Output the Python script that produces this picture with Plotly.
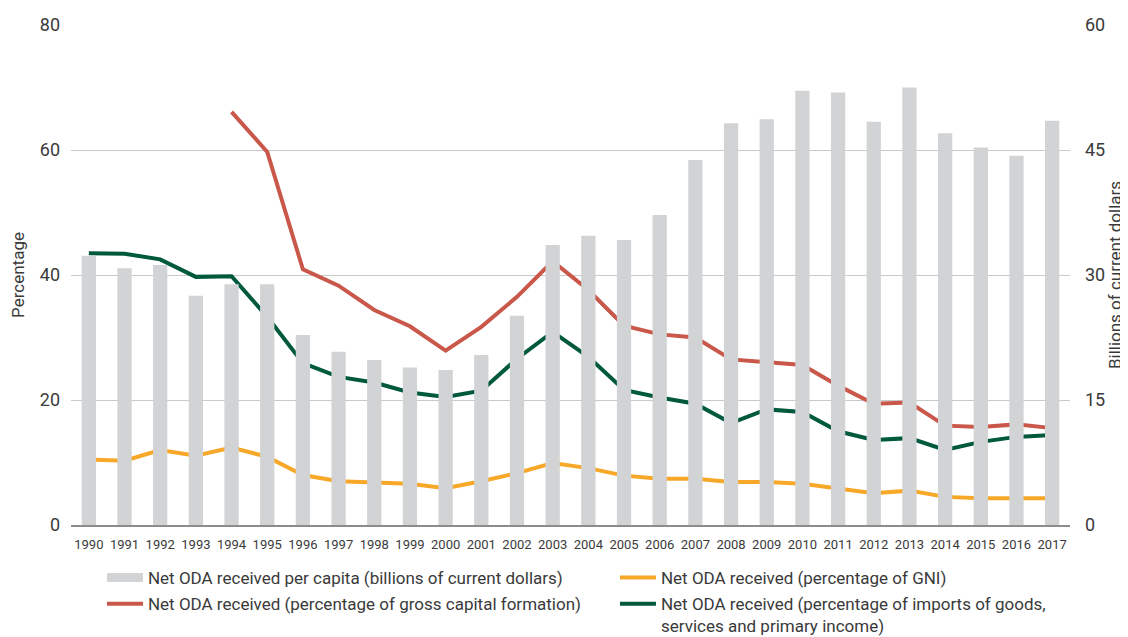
import plotly.graph_objects as go

years = [str(y) for y in range(1990, 2018)]

oda_per_capita_bn = [32.3, 30.8, 31.2, 27.5, 28.9, 28.9, 22.8, 20.8, 19.8, 18.9,
                     18.6, 20.4, 25.1, 33.6, 34.7, 34.2, 37.2, 43.8, 48.2, 48.7,
                     52.1, 51.9, 48.4, 52.5, 47.0, 45.3, 44.3, 48.5]

pct_gni = [10.5, 10.3, 12.0, 11.1, 12.4, 10.9, 8.0, 7.0, 6.8, 6.6,
           5.9, 7.0, 8.3, 9.9, 9.1, 7.9, 7.4, 7.4, 6.9, 6.9,
           6.6, 5.9, 5.1, 5.5, 4.5, 4.3, 4.3, 4.3]

pct_gcf = [None, None, None, None, 66.1, 59.7, 40.9, 38.3, 34.4, 31.8,
           27.9, 31.7, 36.5, 42.2, 37.6, 31.9, 30.5, 30.0, 26.5, 26.0,
           25.6, 22.3, 19.4, 19.6, 15.9, 15.7, 16.1, 15.5]

pct_imports = [43.5, 43.4, 42.5, 39.7, 39.8, 33.3, 25.9, 23.7, 22.8, 21.2,
               20.5, 21.5, 26.6, 30.9, 26.9, 21.6, 20.4, 19.4, 16.3, 18.5,
               18.1, 15.0, 13.6, 13.9, 12.0, 13.3, 14.1, 14.4]

left_ticks = [0, 20, 40, 60, 80]
right_ticks = [0, 15, 30, 45, 60]

GRAY = "#d1d3d4"
ORANGE = "#f8a829"
RED = "#c9574a"
GREEN = "#00593d"
TEXT = "#3a3a3a"
FONT = "Roboto, sans-serif"

fig = go.Figure()

fig.add_trace(go.Bar(
    x=years, y=oda_per_capita_bn, yaxis="y2", marker_color=GRAY,
    marker_line_width=0, width=0.4, showlegend=False,
    name="Net ODA received per capita (billions of current dollars)"))

# legend swatch for the bars (wide grey block, as in the reference)
fig.add_trace(go.Scatter(
    x=[None], y=[None], mode="lines", line=dict(color=GRAY, width=9),
    legend="legend", legendgroup="a",
    name="Net ODA received per capita (billions of current dollars)"))

fig.add_trace(go.Scatter(
    x=years, y=pct_gni, mode="lines", line=dict(color=ORANGE, width=4),
    legend="legend2", legendgroup="b",
    name="Net ODA received (percentage of GNI)"))

fig.add_trace(go.Scatter(
    x=years, y=pct_gcf, mode="lines", line=dict(color=RED, width=4),
    legend="legend", legendgroup="c",
    name="Net ODA received (percentage of gross capital formation)"))

fig.add_trace(go.Scatter(
    x=years, y=pct_imports, mode="lines", line=dict(color=GREEN, width=4),
    legend="legend2", legendgroup="d",
    name="Net ODA received (percentage of imports of goods,<br>services and primary income)"))

legend_common = dict(
    orientation="v", xanchor="left", yanchor="top", valign="top",
    font=dict(size=17, color=TEXT), itemwidth=36, tracegroupgap=1,
    traceorder="grouped", bgcolor="rgba(0,0,0,0)",
)

fig.update_layout(
    width=1120, height=629,
    margin=dict(l=63, r=58, t=17, b=112, autoexpand=False),
    paper_bgcolor="white", plot_bgcolor="white",
    font=dict(family=FONT, color=TEXT, size=16),
    xaxis=dict(
        type="category", range=[-0.5, 27.5], showgrid=False,
        showline=True, linecolor="#8c8c8c", linewidth=2,
        ticks="", tickfont=dict(size=13, color=TEXT), ticklabelstandoff=6,
    ),
    yaxis=dict(
        range=[0, 80], tickvals=left_ticks, showgrid=True,
        gridcolor="#c9c9c9", gridwidth=1, zeroline=False,
        tickfont=dict(size=18, color=TEXT),
        title=dict(text="Percentage", font=dict(size=17, color=TEXT), standoff=18),
        ticklabelstandoff=10,
    ),
    yaxis2=dict(
        range=[0, 60], tickvals=right_ticks, overlaying="y", side="right",
        showgrid=False, zeroline=False,
        tickfont=dict(size=18, color=TEXT),
        title=dict(text="Billions of current dollars", font=dict(size=17, color=TEXT), standoff=2),
        ticklabelstandoff=14,
    ),
    legend=dict(x=0.031, y=-0.070, **legend_common),
    legend2=dict(x=0.5445, y=-0.070, **legend_common),
)

fig.write_html("out.html")
